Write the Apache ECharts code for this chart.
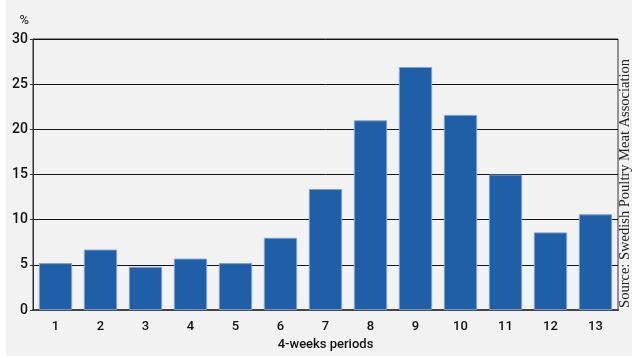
<!DOCTYPE html>
<html><head><meta charset="utf-8">
<script src="https://cdn.jsdelivr.net/npm/echarts@6/dist/echarts.min.js"></script>
<style>html,body{margin:0;padding:0;background:#fff;}#c{position:absolute;left:6px;top:0;width:626px;height:356px;background:#f2f2f2;}</style>
</head><body><div id="c"></div>
<script>
const categories = ['1','2','3','4','5','6','7','8','9','10','11','12','13'];
const values = [5.2, 6.7, 4.8, 5.7, 5.2, 8.0, 13.4, 21.0, 26.9, 21.6, 15.0, 8.6, 10.6];
const yTicks = [0, 5, 10, 15, 20, 25, 30];
const chart = echarts.init(document.getElementById('c'));
chart.setOption({
  animation: false,
  backgroundColor: '#f2f2f2',
  grid: {left: 27, right: 14, top: 39, bottom: 43, show: true, borderColor: '#333', borderWidth: 1, backgroundColor: 'transparent'},
  xAxis: {
    type: 'category', data: categories,
    name: '4-weeks periods', nameLocation: 'middle', nameGap: 26,
    nameTextStyle: {fontFamily: 'Roboto', fontSize: 13, fontWeight: 500, color: '#111'},
    axisLine: {lineStyle: {color: '#444', width: 2}},
    axisTick: {show: false},
    axisLabel: {fontFamily: 'Roboto', fontSize: 13, fontWeight: 500, color: '#111', margin: 10}
  },
  yAxis: {
    type: 'value', min: 0, max: 30, interval: 5,
    name: '%', nameLocation: 'end', nameGap: 12,
    nameTextStyle: {fontFamily: 'Roboto', fontSize: 13, color: '#111', align: 'right', padding: [0, 4, 0, 0]},
    axisLine: {show: true, lineStyle: {color: '#333', width: 1}},
    axisTick: {show: true, length: 3, lineStyle: {color: '#333'}},
    axisLabel: {fontFamily: 'Roboto', fontSize: 14, fontWeight: 500, color: '#111', margin: 5,
      formatter: v => yTicks.includes(v) ? String(v) : ''},
    splitLine: {show: true, lineStyle: {color: '#111', width: 1}}
  },
  series: [{
    type: 'bar', data: values, barCategoryGap: '26%',
    itemStyle: {color: '#1f5fa8', borderColor: '#7fa1cc', borderWidth: 1}
  }],
  graphic: [{
    type: 'text', left: 612, top: 59, rotation: Math.PI / 2,
    style: {text: 'Source: Swedish Poultry Meat Association', fontFamily: 'Liberation Serif', fontSize: 14.5, fill: '#222'}
  }]
});
</script></body></html>
